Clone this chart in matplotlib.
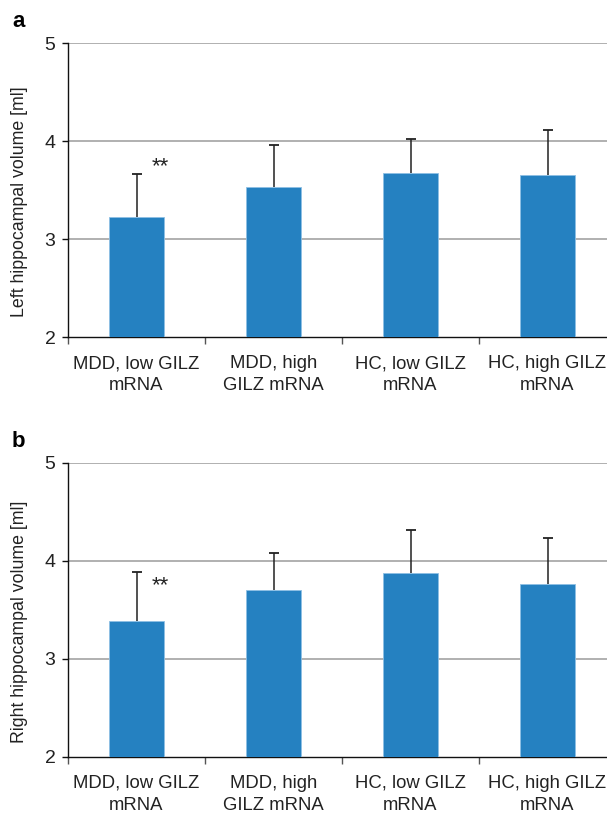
import matplotlib
matplotlib.use("Agg")
import matplotlib.pyplot as plt
import numpy as np

plt.rcParams['font.family'] = ['Liberation Sans', 'DejaVu Sans']

categories = ["MDD, low GILZ\nmRNA", "MDD, high\nGILZ mRNA", "HC, low GILZ\nmRNA", "HC, high GILZ\nmRNA"]
left_means = [3.22, 3.53, 3.67, 3.65]
left_err = [0.44, 0.43, 0.35, 0.46]
right_means = [3.385, 3.70, 3.87, 3.76]
right_err = [0.50, 0.38, 0.44, 0.475]
ylabels = ["Left hippocampal volume [ml]", "Right hippocampal volume [ml]"]
panel_letters = ["a", "b"]
star_pos = [(0.175, 3.74), (0.175, 3.75)]
yticks = [2, 3, 4, 5]

W, H = 607, 818
fig = plt.figure(figsize=(W / 100, H / 100), dpi=100)

bar_color = "#2581C1"
edge_color = "#8EC0E4"

panels = [(left_means, left_err), (right_means, right_err)]
axes_px = [(68, 43, 616, 337), (68, 462.7, 616, 756.7)]
letter_px = [(12, 27), (12, 447)]

for i, ((means, errs), (x0, y0, x1, y1)) in enumerate(zip(panels, axes_px)):
    ax = fig.add_axes([x0 / W, 1 - y1 / H, (x1 - x0) / W, (y1 - y0) / H])
    x = np.arange(len(categories))
    means = np.array(means)
    tops = means + np.array(errs)
    ax.bar(x, means, width=0.4, color=bar_color, edgecolor=edge_color, linewidth=0.6, zorder=3)
    ax.vlines(x, means, tops, color="#222222", linewidth=1.1, zorder=4)
    ax.plot(x, tops, linestyle='none', marker='_', markersize=7, markeredgewidth=1.3,
            color="#222222", zorder=4)
    ax.set_xlim(-0.5, 3.5)
    ax.set_ylim(2, 5)
    ax.set_yticks(yticks)
    ax.set_yticklabels([str(t) for t in yticks], fontsize=14, color="#222222")
    for yv in yticks[1:]:
        ax.axhline(yv, color="#a3a3a3", linewidth=1.2, zorder=1)
    for s in ["top", "right"]:
        ax.spines[s].set_visible(False)
    ax.spines["left"].set_color("#111111")
    ax.spines["left"].set_linewidth(1.0)
    ax.spines["bottom"].set_color("#111111")
    ax.spines["bottom"].set_linewidth(1.0)
    ax.tick_params(axis='y', direction='out', length=4, width=1.0, pad=5, color="#111111")
    ax.set_xticks(x)
    ax.set_xticklabels(categories, fontsize=13.3, color="#222222", linespacing=1.4)
    ax.set_xticks(np.arange(-0.5, 3.5, 1.0), minor=True)
    ax.tick_params(axis='x', which='major', length=0, pad=13)
    ax.tick_params(axis='x', which='minor', direction='out', length=5, width=1.0, color="#555555")
    ax.set_ylabel(ylabels[i], fontsize=12.8, color="#222222")
    ax.yaxis.set_label_coords(-(x0 - 28) / (x1 - x0), 0.46)
    sx, sy = star_pos[i]
    ax.text(sx, sy, "**", fontsize=16, ha='center', va='center', color="#222222")
    fig.text(letter_px[i][0] / W, 1 - letter_px[i][1] / H, panel_letters[i], fontsize=16,
             fontweight='bold', ha='left', va='baseline')

fig.savefig("out.png", dpi=100)
